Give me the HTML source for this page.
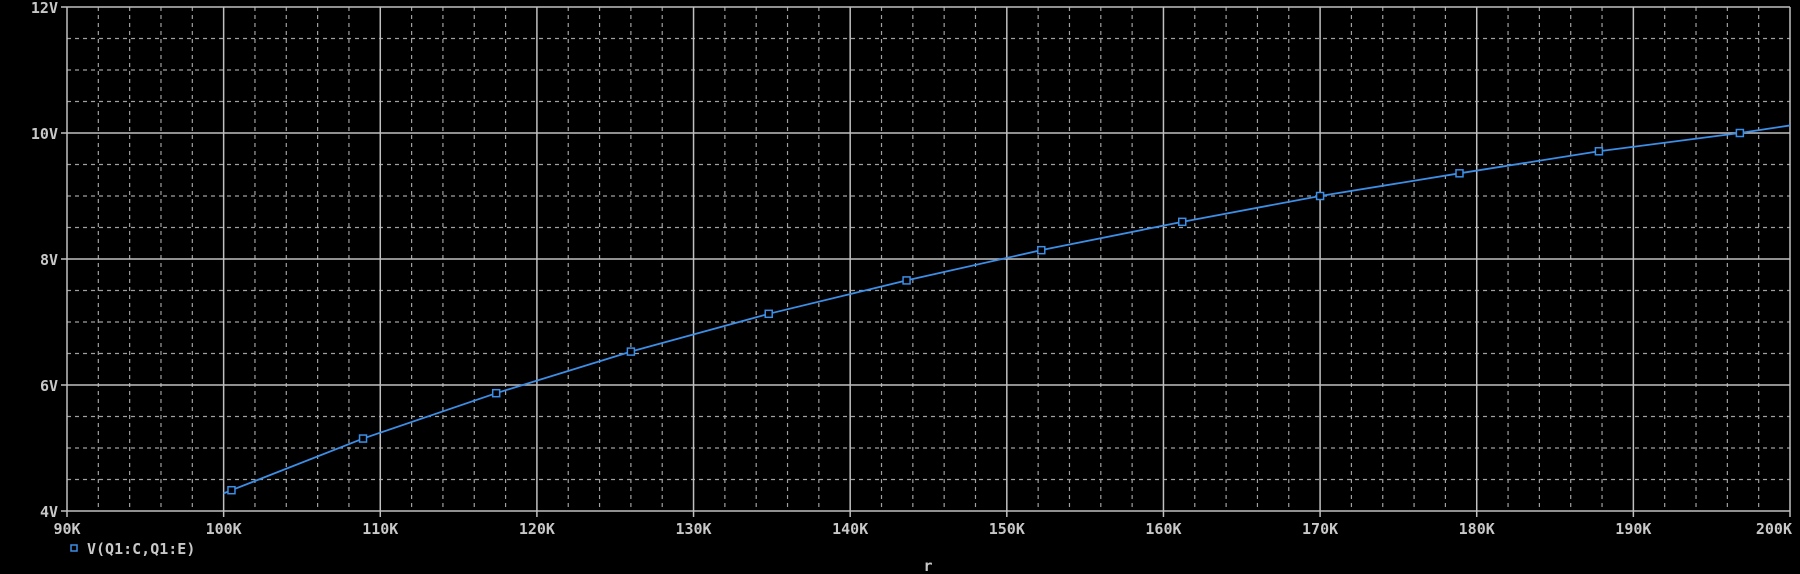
<!DOCTYPE html>
<html><head><meta charset="utf-8"><style>
html,body{margin:0;padding:0;background:#000;}
svg{display:block;}
text{font-family:"DejaVu Sans Mono","Liberation Mono",monospace;font-weight:bold;fill:#c8c8c8;font-size:15px;}
</style></head><body>
<svg id="chart" width="1800" height="574" viewBox="0 0 1800 574" xmlns="http://www.w3.org/2000/svg">
<g id="grid"></g>
<g id="axes"></g>
<g id="series"></g>
<g id="legend">
  <rect x="71" y="545" width="6" height="6" fill="none" stroke="#3c8ee6" stroke-width="1.5"/>
  <text x="87" y="554">V(Q1:C,Q1:E)</text>
</g>
<text x="928" y="571" text-anchor="middle">r</text>
</svg>
<script>
const xTicks = [90,100,110,120,130,140,150,160,170,180,190,200];
const yTicks = [4,6,8,10,12];
const lineX = [100,100.5,108.9,117.4,126.0,134.8,143.6,152.2,161.2,170.0,178.9,187.8,196.8,200];
const lineY = [4.28,4.33,5.15,5.87,6.53,7.13,7.66,8.14,8.59,9.00,9.36,9.71,10.00,10.12];
const markX = [100.5,108.9,117.4,126.0,134.8,143.6,152.2,161.2,170.0,178.9,187.8,196.8];
const markY = [4.33,5.15,5.87,6.53,7.13,7.66,8.14,8.59,9.00,9.36,9.71,10.00];

const L=67,R=1790,T=7,B=511;
const xs=v=>L+(v-90)/110*(R-L);
const ys=v=>B-(v-4)/8*(B-T);
const NS='http://www.w3.org/2000/svg';
function mk(tag,parent,attrs){const e=document.createElementNS(NS,tag);for(const k in attrs)e.setAttribute(k,attrs[k]);parent.appendChild(e);return e;}
const grid=document.getElementById('grid'),axes=document.getElementById('axes'),series=document.getElementById('series');
for(let v=92;v<200;v+=2){ if(v%10===0) continue;
  const l=mk('line',grid,{x1:xs(v),x2:xs(v),y1:T,y2:B,stroke:'#a0a0a0','stroke-width':1.2,'stroke-dasharray':'4,4'});
  
  
}
for(let v=4.5;v<12;v+=0.5){ if(v%2===0) continue;
  const l=mk('line',grid,{x1:L,x2:R,y1:ys(v),y2:ys(v),stroke:'#a0a0a0','stroke-width':1.2,'stroke-dasharray':'4,4'});
  
  
}
xTicks.forEach((v,i)=>{
  const l=mk('line',axes,{x1:xs(v),x2:xs(v),y1:T,y2:B+6,stroke:'#c0c0c0','stroke-width':1.5});
  
  
  const last=i===xTicks.length-1;
  const t=mk('text',axes,{x:last?xs(v)+2:xs(v),y:534,'text-anchor':last?'end':'middle'});
  t.textContent=v+'K';
  
  
});
yTicks.forEach(v=>{
  const l=mk('line',axes,{x1:L-6,x2:R,y1:ys(v),y2:ys(v),stroke:'#c0c0c0','stroke-width':1.5});
  
  
  const t=mk('text',axes,{x:58,y:ys(v)+6,'text-anchor':'end'});
  t.textContent=v+'V';
  
  
});
const pts=lineX.map((x,i)=>xs(x)+','+ys(lineY[i])).join(' ');
const pl=mk('polyline',series,{points:pts,fill:'none',stroke:'#3c8ee6','stroke-width':1.8});


markX.forEach((x,i)=>{
  const r=mk('rect',series,{x:xs(x)-3.5,y:ys(markY[i])-3.5,width:7,height:7,fill:'#000',stroke:'#3c8ee6','stroke-width':1.5});
  
  
});
</script>
</body></html>
